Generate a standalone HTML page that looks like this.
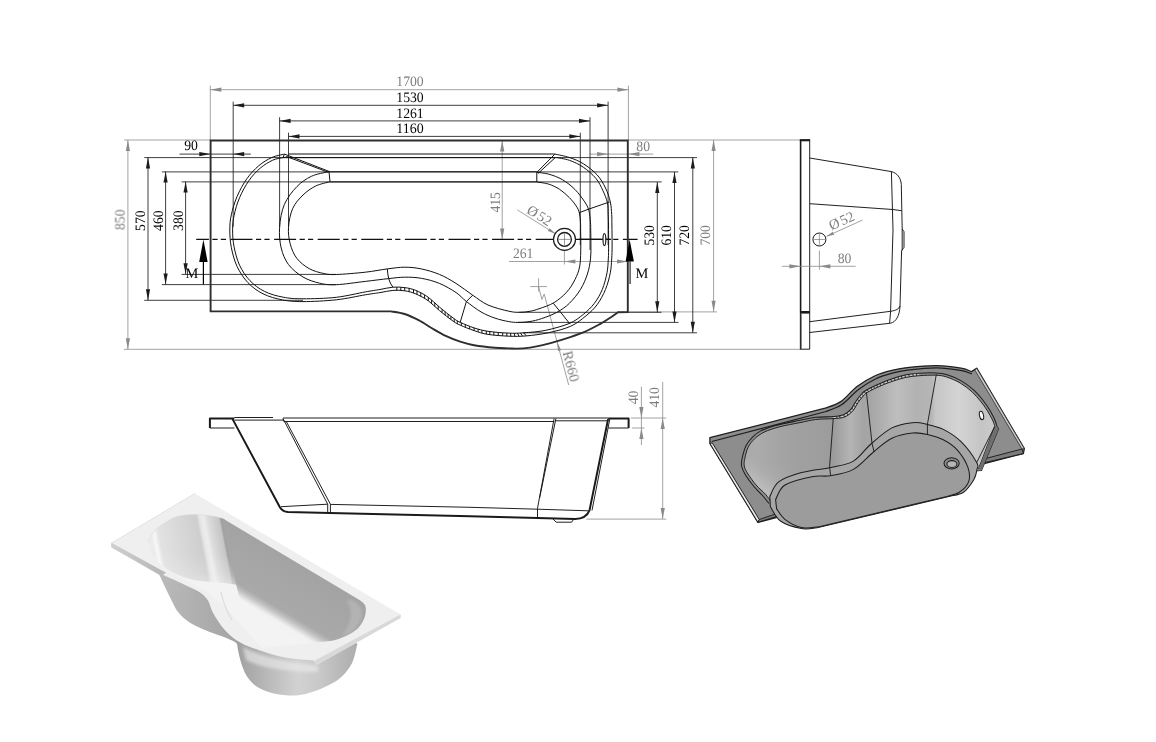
<!DOCTYPE html>
<html><head><meta charset="utf-8"><title>Bathtub drawing</title>
<style>html,body{margin:0;padding:0;background:#fff;}body{width:1156px;height:742px;overflow:hidden;font-family:"Liberation Serif",serif;}svg{display:block;}</style>
</head><body>
<svg width="1156" height="742" viewBox="0 0 1156 742">
<rect width="1156" height="742" fill="#fff"/>
<g stroke="#8a8a8a" stroke-width="0.8" fill="none">
<path d="M124,140H210.5M628,140H800.5M124,349.3H800.5"/>
<path d="M127.9,140V349.3"/>
<path d="M210.3,85.6V140M628.4,85.6V140M210.3,89.7H628.4"/>
<path d="M713.6,140V311.8M628,311.9H717"/>
<path d="M502.2,140.6V239.4"/>
<path d="M509,261.5H628M564.4,250V264.5"/>
<path d="M590,154.1H653.4"/>
<path d="M517.3,209.9L555.5,233.8"/>
<path d="M530.3,286.6H547M538.6,278.3V291.5M538.6,286.6L541.9,299.4L544.2,294L568.7,385" />
</g>
<g fill="#8a8a8a">
<polygon points="127.9,140 130,151 125.8,151"/>
<polygon points="127.9,349.3 125.8,338.3 130,338.3"/>
<polygon points="210.3,89.7 221.3,87.6 221.3,91.8"/>
<polygon points="628.4,89.7 617.4,91.8 617.4,87.6"/>
<polygon points="713.6,140 715.7,151 711.5,151"/>
<polygon points="713.6,311.8 711.5,300.8 715.7,300.8"/>
<polygon points="502.2,140.6 504.3,151.6 500.1,151.6"/>
<polygon points="502.2,239.4 500.1,228.4 504.3,228.4"/>
<polygon points="564.4,261.5 575.4,259.4 575.4,263.6"/>
<polygon points="628,261.5 617,263.6 617,259.4"/>
<polygon points="608.1,154.1 597.1,156.2 597.1,152"/>
<polygon points="628.4,154.1 639.4,152 639.4,156.2"/>
<polygon points="555.5,233.8 547.9,230.9 549.6,228.2"/>
<polygon points="557.2,342 561.1,350.3 558,351.1"/>
</g>
<g stroke="#1c1c1c" stroke-width="0.85" fill="none">
<path d="M233.2,101.6V227M608.1,101.6V245M233.2,105.3H608.1"/>
<path d="M279.6,117.2V227M590,117.2V250M279.6,120.9H590"/>
<path d="M288.5,132.7V227M580.3,132.7V245M288.5,136.4H580.3"/>
<path d="M179.5,154.1H250.8"/>
<path d="M148,157.6V300.3M165.6,171.5V284.5M185.6,181.5V274.3"/>
<path d="M144.3,157.6H697M161.9,171.9H678.3M181.6,181.9H661.7"/>
<path d="M144.3,300.3H303M161.9,284.6H336M181.6,274.4H336"/>
<path d="M657.3,182V312.3M674.5,172V322.4M692.8,157.6V332.8"/>
<path d="M519,312.3H661.5M518,322.4H678.5M523,332.8H697"/>
</g>
<g fill="#1c1c1c">
<polygon points="233.2,105.3 244.2,103.2 244.2,107.4"/>
<polygon points="608.1,105.3 597.1,107.4 597.1,103.2"/>
<polygon points="279.6,120.9 290.6,118.8 290.6,123"/>
<polygon points="590,120.9 579,123 579,118.8"/>
<polygon points="288.5,136.4 299.5,134.3 299.5,138.5"/>
<polygon points="580.3,136.4 569.3,138.5 569.3,134.3"/>
<polygon points="210.3,154.1 199.3,156.2 199.3,152"/>
<polygon points="233.2,154.1 244.2,152 244.2,156.2"/>
<polygon points="148,157.6 150.1,168.6 145.9,168.6"/>
<polygon points="148,300.3 145.9,289.3 150.1,289.3"/>
<polygon points="165.6,171.5 167.7,182.5 163.5,182.5"/>
<polygon points="165.6,284.5 163.5,273.5 167.7,273.5"/>
<polygon points="185.6,181.5 187.7,192.5 183.5,192.5"/>
<polygon points="185.6,274.3 183.5,263.3 187.7,263.3"/>
<polygon points="657.3,182 659.4,193 655.2,193"/>
<polygon points="657.3,312.3 655.2,301.3 659.4,301.3"/>
<polygon points="674.5,172 676.6,183 672.4,183"/>
<polygon points="674.5,322.4 672.4,311.4 676.6,311.4"/>
<polygon points="692.8,157.6 694.9,168.6 690.7,168.6"/>
<polygon points="692.8,332.8 690.7,321.8 694.9,321.8"/>
</g>
<path d="M196.2,239.4H637.6" stroke="#111" stroke-width="1.1" fill="none" stroke-dasharray="22 3.5 5.2 3.2 5.2 4.5" stroke-dashoffset="9.3"/>
<path d="M575,239.4H611" stroke="#111" stroke-width="1.1" fill="none"/>
<path d="M210.6,311.4H391C393.3,311.8 400.1,312.5 404.7,314C409.3,315.5 414,317.8 418.6,320.2C423.2,322.6 427.8,325.8 432.4,328.5C437,331.2 441.7,334 446.3,336.2C450.9,338.4 455.6,340.2 460.2,341.7C464.8,343.2 468.3,344.2 474.1,345.2C479.9,346.2 489.1,347.2 494.9,347.7C500.7,348.2 505.1,348.2 508.8,348.4C512.5,348.5 513.5,348.7 517,348.6C520.5,348.5 525.9,348.1 530,347.6C534.1,347.1 536.2,346.7 541.6,345.4C547,344.1 555.5,341.8 562.4,339.6C569.3,337.4 577,335 583.3,332.4C589.5,329.8 595.3,326.6 599.9,324.1C604.5,321.6 608,319.2 611,317.2C614,315.2 616.8,313.1 618,312.3L627.8,312V140.5H210.6Z" stroke="#2e2e2e" stroke-width="1.9" fill="none" stroke-linejoin="miter"/>
<g stroke="#111" stroke-width="1" fill="none">
<path d="M284.4,154.1C282.3,154.7 275.9,155.6 271.6,157.6C267.3,159.6 262.8,162.3 258.7,165.8C254.6,169.3 250.4,173.7 246.8,178.8C243.2,183.9 239.7,190.4 237.1,196.4C234.5,202.4 232.5,209.3 231.3,214.9C230.1,220.5 229.8,224.6 229.8,230C229.8,235.4 230.1,241.2 231.3,247.3C232.5,253.4 234.3,260.6 237.1,266.5C239.9,272.4 243.6,278.1 247.9,282.6C252.2,287.2 257.2,290.9 263,293.8C268.8,296.7 275.7,298.6 282.4,299.9C289.1,301.2 294,301.6 303,301.6C312,301.6 325.9,300.9 336.3,299.8C346.7,298.7 358,296 365.3,294.8C372.6,293.6 375.4,293.3 380,292.6C384.6,291.9 388.8,290.7 392.9,290.4C397,290.1 400.9,290.2 404.7,290.8C408.5,291.4 411.9,292.2 415.8,293.9C419.7,295.6 424.4,298 428.3,300.8C432.2,303.6 435.2,307.1 439.4,310.5C443.6,313.9 449.8,318.9 453.3,321.3C456.8,323.7 456.7,323.6 460.2,325.1C463.7,326.7 469.5,329.1 474.1,330.6C478.7,332.2 482.2,333.5 488,334.4C493.8,335.3 502.4,335.9 508.8,336.2C515.2,336.4 519.8,336.5 526.4,335.9C533,335.3 541.2,334.3 548.6,332.7C556,331.1 564.6,329 570.8,326.2C577,323.4 581.6,319.4 586,315.8C590.4,312.2 593.9,309.1 597.1,304.7C600.4,300.3 603.3,294.7 605.5,289.4C607.7,284.1 609.3,277.9 610.3,272.8C611.3,267.7 611.4,263.5 611.7,258.9C612,254.3 612.1,250.7 612.1,245C612.1,239.3 612,230.1 611.9,225C611.8,219.9 612,218.2 611.7,214.4C611.4,210.6 611.3,206.3 610.3,201.9C609.3,197.5 607.7,192.5 605.5,188C603.3,183.5 600.8,178.9 597.1,174.8C593.4,170.8 587.9,166.6 583.3,163.7C578.7,160.8 574.1,159.1 569.4,157.5C564.6,155.9 557.2,154.6 554.8,154H288.5"/>
<path d="M283.2,157.6C281.5,158 276.5,158.4 272.7,160.2C268.9,161.9 264.3,164.7 260.3,168.1C256.3,171.5 252.3,175.7 248.9,180.7C245.4,185.6 242.1,191.8 239.6,197.6C237.1,203.4 235.2,210 234.1,215.4C232.9,220.8 232.6,224.7 232.6,229.9C232.6,235.1 232.9,240.7 234,246.6C235.2,252.4 236.9,259.4 239.5,265.1C242.2,270.8 245.7,276.3 249.9,280.6C254.1,285 258.9,288.7 264.5,291.4C270,294.2 276.8,296 283.2,297.2C289.6,298.4 294.1,298.8 303,298.8C311.9,298.8 325.9,298.5 336.3,297.3C346.7,296.1 358,293.2 365.3,291.9C372.6,290.6 375.4,290.3 380,289.5C384.6,288.7 388.8,287.5 392.9,287.2C397,286.9 400.9,287.1 404.7,287.6C408.5,288.1 411.9,288.8 415.8,290.4C419.7,292 424.4,294.5 428.3,297.3C432.2,300.1 435.2,303.5 439.4,307C443.6,310.5 449.8,315.6 453.3,318.1C456.8,320.7 456.7,320.7 460.2,322.3C463.7,323.9 469.5,326.4 474.1,327.9C478.7,329.4 482.2,330.4 488,331.3C493.8,332.2 502.9,332.9 508.8,333.1C514.7,333.4 517.4,333.3 523.6,332.8C529.8,332.3 538.2,331.9 545.8,330.3C553.4,328.7 563.1,326 569.4,323.4C575.6,320.8 579.1,317.8 583.3,314.4C587.5,311 591.2,307.5 594.4,303.3C597.6,299.1 600.2,294.5 602.3,289.4C604.4,284.3 606,277.9 607,272.8C608,267.7 608,263.5 608.3,258.9C608.6,254.3 608.6,250.7 608.6,245C608.6,239.3 608.6,230.1 608.5,225C608.4,219.9 608.4,218.1 608.2,214.4C608,210.7 608.3,206.5 607.4,202.6C606.5,198.7 604.9,194.9 603,190.8C601.1,186.8 599.1,182.2 595.8,178.3C592.5,174.4 587.7,170.2 583.3,167.2C578.9,164.2 574,161.9 569.4,160.3C564.8,158.7 557.8,157.9 555.5,157.4"/>
<path d="M328,171.8C325.2,172.6 316.6,173.8 311.4,176.3C306.2,178.8 301.3,182 296.8,186.7C292.3,191.4 287.3,197.7 284.4,204.4C281.5,211.2 280.1,219.9 279.6,227.2C279.1,234.5 279.7,241.8 281.2,248C282.7,254.2 284.9,259.8 288.5,264.6C292.1,269.4 297.8,273.9 303,277C308.2,280.1 314.1,281.9 319.7,283.2C325.2,284.5 328.7,285 336.3,284.7C343.9,284.4 356.6,282.4 365.3,281.4C374,280.4 382.1,279.3 388.7,278.6C395.3,277.9 399.3,277.2 404.7,277.2C410.1,277.1 415.5,277.3 421.3,278.3C427.1,279.3 433.6,281 439.4,283.4C445.2,285.8 451.5,289.5 456,292.5C460.5,295.5 462.2,298.3 466.4,301.5C470.6,304.7 476.2,309.1 481,311.9C485.8,314.7 490.3,316.5 494.9,318.1C499.5,319.7 504.9,320.9 508.8,321.6C512.6,322.3 514.5,322.4 518,322.4C521.5,322.4 526.1,322.1 530,321.5C533.9,320.9 537.1,320.1 541.6,318.6C546.1,317.1 552.3,314.9 556.9,312.3C561.5,309.8 565.5,307.1 569.4,303.3C573.3,299.5 577.5,294.3 580.5,289.4C583.5,284.5 585.7,279.2 587.4,274.1C589.1,269 589.9,263.8 590.5,258.9C591.1,254 590.9,249.8 590.9,245C590.9,240.2 590.8,233.7 590.7,230C590.6,226.3 590.8,226 590.5,222.7C590.2,219.4 589.8,213.7 588.8,210.2C587.8,206.7 587,205.4 584.7,201.9C582.4,198.4 578.6,193.1 574.9,189.4C571.2,185.7 566.8,182.2 562.4,179.7C558,177.1 552.9,175.3 548.6,174.1C544.3,172.9 538.8,172.6 536.8,172.3"/>
<path d="M329.6,181.8C327.2,182.5 319.9,183.9 315.5,186.1C311.1,188.3 306.8,191.3 303,195C299.2,198.7 295.1,203.1 292.7,208.5C290.3,213.9 288.9,221.3 288.5,227.2C288.1,233.1 288.8,238.6 290.2,243.8C291.6,249 293.6,254.2 296.8,258.3C300,262.4 304.8,266.2 309.3,268.7C313.8,271.2 319.3,272.5 323.8,273.5C328.3,274.5 329.4,274.7 336.3,274.5C343.2,274.3 356.8,273.1 365.3,272.2C373.8,271.3 380.7,269.7 387.3,268.9C393.9,268.1 399,267.2 404.7,267.2C410.4,267.2 415.5,267.7 421.3,268.9C427.1,270.1 433.6,272 439.4,274.4C445.2,276.8 450.4,279.9 456,283.4C461.6,286.9 467.4,291.6 472.7,295.2C478,298.8 482,302.3 488,305C494,307.7 503.6,310 508.8,311.2C514,312.4 515.9,312.3 519.4,312.3C522.9,312.3 526.8,311.9 530,311.3C533.2,310.7 534.9,310.2 538.9,308.8C542.9,307.4 549.5,305.4 554.1,302.6C558.7,299.8 563.1,296 566.6,292.2C570.1,288.4 572.7,284.1 574.9,279.7C577.1,275.3 578.8,271.6 579.8,265.8C580.8,260 580.7,251 580.8,245C580.9,239 580.6,233.7 580.6,230C580.6,226.3 580.7,225.5 580.5,222.7C580.3,219.9 580.1,215.8 579.4,213C578.7,210.2 578,208.7 576.3,206.1C574.6,203.5 572.2,200.5 569.4,197.7C566.6,194.9 563.2,191.7 559.7,189.4C556.2,187.1 552.4,185.3 548.6,184.1C544.8,182.9 538.8,182.3 536.8,182"/>
<path d="M328,171.8H536.8M329.6,181.9H536.8M283.2,157.6H555.5"/>
<path d="M396.8,290.4L396.8,287.2M400.8,290.5L400.8,287.3M404.7,290.8L404.7,287.6M409.1,291.7L409.1,288.4M413.5,293L413.5,289.5M417,294.4L417,290.9M420.8,296.3L420.8,292.7M424.6,298.4L424.6,294.9M428.3,300.8L428.3,297.3M431.6,303.5L431.6,300M434.8,306.4L434.8,302.9M438.2,309.5L438.2,306M442.1,312.7L442.1,309.2M445.1,315.1L445.1,311.7M448.1,317.4L448.1,314.1M450.9,319.6L450.9,316.3M454.2,322L454.2,318.8M457.3,323.8L457.3,320.9M461.3,325.6L461.3,322.8M465.3,327.3L465.3,324.5M469.7,329L469.7,326.3M474.1,330.6L474.1,327.9M478.1,331.9L478.1,329.1M481.9,333.1L481.9,330.2M486.3,334.1L486.3,331M489.8,334.7L489.8,331.6M493.8,335.2L493.9,332M498.2,335.6L498.3,332.4M502.6,335.9L502.8,332.8M506.8,336.1L506.9,333M510.8,336.3L510.6,333.2M514.9,336.3L514.1,333.2M518.9,336.2L517.5,333.1M522.5,336L520.4,332.9M526.4,335.9L523.6,332.8"/>
<path d="M284.4,154.1L329,171.4L330,181.8M286.5,156.5L328.5,172.3M284.4,154.1L283,157.6L287.5,157M554.8,154.2L536.8,172.4V182M555,157.8L538,173.5"/>
<path d="M387.3,268.9Q387.6,274 388.7,278.6T392.9,287.2M472.7,295.2L466.4,301.5L460.2,322.3M553.4,303.3L570.1,324.1M579.4,212.6L588.8,209.1L609.6,201.9"/>
</g>
<g stroke="#1c1c1c" fill="#fff">
<circle cx="564.5" cy="239.4" r="11" stroke-width="1.2"/><circle cx="564.5" cy="239.4" r="6.9" stroke-width="1.3"/>
<path d="M558.5,239.4H570.5M564.5,233.4V245.4" stroke-width="0.6" stroke="#555"/>
<ellipse cx="604.4" cy="239.6" rx="1.4" ry="6" stroke-width="1.2" fill="#fff"/>
</g>
<g fill="#000" stroke="none">
<polygon points="203.4,239.4 207.6,262 199.2,262"/><rect x="202.8" y="261" width="1.2" height="23.5"/>
<polygon points="629.6,239.4 633.9,261.6 625.6,261.6"/>
</g>
<path d="M630.1,261V284" stroke="#3a3a3a" stroke-width="1.3"/>
<g font-family="'Liberation Serif',serif" font-size="14.4px" fill="#000" text-anchor="middle" text-rendering="geometricPrecision" opacity="0.99">
<text x="410" y="102" textLength="27.4" lengthAdjust="spacingAndGlyphs">1530</text><text x="410" y="117.6" textLength="27.4" lengthAdjust="spacingAndGlyphs">1261</text><text x="410" y="133" textLength="27.4" lengthAdjust="spacingAndGlyphs">1160</text>
<text x="191" y="150" textLength="13.7" lengthAdjust="spacingAndGlyphs">90</text>
<text transform="translate(144.9,220.7) rotate(-90)" textLength="20.5" lengthAdjust="spacingAndGlyphs">570</text>
<text transform="translate(162.9,220.7) rotate(-90)" textLength="20.5" lengthAdjust="spacingAndGlyphs">460</text>
<text transform="translate(182.7,220.7) rotate(-90)" textLength="20.5" lengthAdjust="spacingAndGlyphs">380</text>
<text transform="translate(654,235.3) rotate(-90)" textLength="20.5" lengthAdjust="spacingAndGlyphs">530</text>
<text transform="translate(671,235.3) rotate(-90)" textLength="20.5" lengthAdjust="spacingAndGlyphs">610</text>
<text transform="translate(689.3,235.3) rotate(-90)" textLength="20.5" lengthAdjust="spacingAndGlyphs">720</text>
<text x="192" y="277.9" font-size="14.4px">M</text><text x="642" y="277.7" font-size="14.4px">M</text>
</g>
<g font-family="'Liberation Serif',serif" font-size="14.4px" fill="#7c7c7c" text-anchor="middle" text-rendering="geometricPrecision" opacity="0.99">
<text x="410" y="86" textLength="27.4" lengthAdjust="spacingAndGlyphs">1700</text><text x="643.2" y="150.6" textLength="13.7" lengthAdjust="spacingAndGlyphs">80</text><text x="523.2" y="257.8" textLength="20.5" lengthAdjust="spacingAndGlyphs">261</text>
<text transform="translate(124.6,219.7) rotate(-90)" textLength="20.5" lengthAdjust="spacingAndGlyphs">850</text>
<text transform="translate(710,235.3) rotate(-90)" textLength="20.5" lengthAdjust="spacingAndGlyphs">700</text>
<text transform="translate(499.7,202.3) rotate(-90)" textLength="20.5" lengthAdjust="spacingAndGlyphs">415</text>
<text transform="translate(525.8,212.5) rotate(32)" text-anchor="start">Ø<tspan dx="1.6">52</tspan></text>
<text transform="translate(562.5,352.5) rotate(75.2)" text-anchor="start">R660</text>
</g>
<g stroke="#141414" fill="none" stroke-width="0.95">
<path d="M809.7,140.5V349.2H800.6"/>
<path d="M800.6,313V349.2"/>
<path d="M809.7,158L891.4,171.6C897,173 900.8,177.5 901.3,184.5L902.2,229L904,231.7V247.4L901.6,250.5L900,306C899.5,316 896,322 890.6,323.2L809.7,332.5"/>
<path d="M809.7,203.7L892.9,209.5L901.6,210.7"/>
<path d="M891.4,171.6L893,230L890.6,311.3L889.6,323.2"/>
<path d="M809.7,321.7L890.6,311.3C896,310.5 899,309 900,306"/>
<path d="M902.2,229V250.5"/>
</g>
<path d="M800.6,349.2V140.5" stroke="#1a1a1a" stroke-width="1.6" fill="none"/>
<path d="M799.8,140.2H810.1" stroke="#1a1a1a" stroke-width="2.2" fill="none"/>
<path d="M800.4,312.3H809.7" stroke="#1a1a1a" stroke-width="2.6" fill="none"/>
<path d="M800.6,313V349.2" stroke="#fff" stroke-width="1.7" fill="none"/><path d="M800.7,313V349.5" stroke="#222" stroke-width="1.3" fill="none"/>
<circle cx="819.4" cy="239.5" r="6.5" stroke="#1c1c1c" stroke-width="1" fill="none"/>
<path d="M813.5,239.5H825.3M819.4,233.5V245.5" stroke="#666" stroke-width="0.6"/>
<g stroke="#8a8a8a" stroke-width="0.8" fill="none">
<path d="M781.9,266.3H855.7M819.4,250.5V269.7M826.5,236.4L862.4,220.1"/>
</g>
<g fill="#8a8a8a">
<polygon points="800.4,266.3 789.4,268.4 789.4,264.2"/>
<polygon points="819.4,266.3 830.4,264.2 830.4,268.4"/>
<polygon points="826.2,236.6 832.8,231.8 834.1,234.7"/>
</g>
<g font-family="'Liberation Serif',serif" font-size="14.4px" fill="#7c7c7c" text-rendering="geometricPrecision" opacity="0.99">
<text x="844.5" y="262.5" text-anchor="middle" textLength="13.7" lengthAdjust="spacingAndGlyphs">80</text>
<text transform="translate(831.5,230.6) rotate(-24.5)">Ø<tspan dx="1.6">52</tspan></text>
</g>
<g stroke="#141414" fill="none" stroke-width="0.95">
<path d="M234.3,417.5H273M234.3,420.1H283M283,418H608M286,421.5H554.3M555.7,420.8H607.6"/>
<path d="M209.9,428H234.5M608.3,428H628.6"/>
<path d="M283,418.6L327.7,504.2M286.2,421.3L330.4,504.2M283,418.6L284,421.8L286.2,421.3"/>
<path d="M281,506.7L327.7,504.2M330.4,504.4L470,507.3L537.5,509.2L588.3,510.8"/>
<path d="M327.7,504.2V512.6M330.4,504.2V512.8M537.5,508.3V517.7"/>
<path d="M554.1,418.6L537.5,508.3M555.9,418.6L539.6,498"/>
<path d="M609.8,419.1L592,510.4"/>
<path d="M553,519L556.2,522.2H571.7L573.8,519"/>
</g>
<g stroke="#1a1a1a" fill="none" stroke-width="2" stroke-linejoin="round">
<path d="M234.3,418.4H209.9V428"/>
<path d="M232.2,418.4L279.9,507.3Q282.5,511.8 288,512.1L329.8,512.9L470,516.2L537.5,517.9L575,518.9Q586,519 589.5,510.4L608.1,419.1"/>
<path d="M608.1,418.4H628.6V428"/>
</g>
<g stroke="#8a8a8a" stroke-width="0.8" fill="none">
<path d="M586.3,519.1H666.2M630.9,418H666.2M631.9,428H644.4M641.4,386.6V445M662.7,381.8V519.1"/>
</g>
<g fill="#8a8a8a">
<polygon points="641.4,418 639.3,407 643.5,407"/>
<polygon points="641.4,428 643.5,439 639.3,439"/>
<polygon points="662.7,418 664.8,429 660.6,429"/>
<polygon points="662.7,519.1 660.6,508.1 664.8,508.1"/>
</g>
<g font-family="'Liberation Serif',serif" font-size="14.4px" fill="#7c7c7c" text-anchor="middle" text-rendering="geometricPrecision" opacity="0.99">
<text transform="translate(637.6,397.4) rotate(-90)" textLength="13.7" lengthAdjust="spacingAndGlyphs">40</text><text transform="translate(659.4,397.3) rotate(-90)" textLength="20.5" lengthAdjust="spacingAndGlyphs">410</text>
</g>
<defs>
<linearGradient id="gw" gradientUnits="userSpaceOnUse" x1="742" y1="0" x2="1000" y2="0">
<stop offset="0" stop-color="#a6a6a6"/><stop offset="0.05" stop-color="#adadad"/><stop offset="0.12" stop-color="#a6a6a6"/>
<stop offset="0.22" stop-color="#a0a0a0"/><stop offset="0.345" stop-color="#9c9c9c"/><stop offset="0.35" stop-color="#9a9a9a"/>
<stop offset="0.42" stop-color="#b4b4b4"/><stop offset="0.47" stop-color="#a4a4a4"/><stop offset="0.5" stop-color="#a6a6a6"/>
<stop offset="0.6" stop-color="#bebebe"/><stop offset="0.68" stop-color="#b2b2b2"/><stop offset="0.735" stop-color="#b6b6b6"/>
<stop offset="0.75" stop-color="#c6c6c6"/><stop offset="0.84" stop-color="#d4d4d4"/><stop offset="0.93" stop-color="#c4c4c4"/><stop offset="1" stop-color="#cfcfcf"/>
</linearGradient>
<linearGradient id="gl" gradientUnits="userSpaceOnUse" x1="748" y1="498" x2="796" y2="436">
<stop offset="0" stop-color="#c8c8c8"/><stop offset="0.18" stop-color="#bfbfbf"/><stop offset="0.4" stop-color="#adadad" stop-opacity="0.7"/><stop offset="0.65" stop-color="#a4a4a4" stop-opacity="0"/><stop offset="1" stop-color="#a0a0a0" stop-opacity="0"/>
</linearGradient>
</defs>
<path d="M709.9,437.7L825.1,408.2C827.7,407.1 835.5,405.2 840.8,401.6C846.1,398 851.4,390.8 857,386.5C862.6,382.2 868.8,378.7 874.6,376C880.4,373.3 886.1,371.8 891.9,370.4C897.7,368.9 901.7,368.1 909.2,367.3C916.7,366.5 928.2,365.5 936.9,365.6C945.5,365.8 955.3,367.2 961.1,368.2C966.9,369.2 969.8,371 971.5,371.6L976.7,368.2L1024.3,448.6L1023.4,453.5L757.9,522.3L709.9,443.4Z" fill="#8d8d8d" stroke="#1e1e1e" stroke-width="1.3" stroke-linejoin="round"/>
<path d="M711.8,441.5L825.1,411.8C827.8,410.6 835.9,408.5 841.5,404.8C847.1,401.1 852.8,393.8 858.5,389.5C864.2,385.2 869.9,381.7 875.5,379C881.1,376.3 886.6,374.7 892.3,373.2C897.9,371.7 902,370.7 909.4,369.8C916.8,368.9 928.4,367.7 936.9,367.8C945.4,367.9 954.8,369.4 960.6,370.4C966.5,371.4 970.1,373.4 972,374" fill="none" stroke="#1e1e1e" stroke-width="1.2"/>
<path d="M709.9,443.4L712.3,442.9L759.3,519.5L757.9,522.3Z" fill="#e4e4e4" stroke="#1e1e1e" stroke-width="0.95" stroke-linejoin="round"/>
<path d="M976.7,368.2L1024.3,448.6L1022,449L975,370.3Z" fill="#c9c9c9" stroke="#1e1e1e" stroke-width="0.7" stroke-linejoin="round"/>
<path d="M1022,449L1023.4,453.5L981.9,463.3L983,459.2Z" fill="#7c7c7c" stroke="#1e1e1e" stroke-width="0.95" stroke-linejoin="round"/>
<path d="M757.9,522.3L759.3,519.5L779,512.8L778.7,515.8Z" fill="#7c7c7c" stroke="#1e1e1e" stroke-width="0.95" stroke-linejoin="round"/>
<path d="M771.1,501.9C770.2,500.6 768,497.1 765.5,494.3C763,491.5 758.9,488.3 756,484.9C753.1,481.5 750,477.1 748,474C746,470.9 744.8,468.6 744.3,466C743.8,463.4 744.2,461.6 744.8,458.5C745.4,455.4 746.5,450.5 748.1,447.2C749.8,443.9 752,441.2 754.7,438.7C757.4,436.2 760.1,434.1 764.2,432.1C768.3,430.1 773.2,428.5 779.2,426.9C785.2,425.3 793.9,423.8 800,422.6C806.1,421.4 810.1,420.2 815.7,419.5C821.3,418.8 828.7,419 833.5,418.6C838.3,418.2 841.4,418.3 844.6,417C847.8,415.7 850.7,413.2 852.9,410.8C855.1,408.4 856.1,405.3 857.9,402.8C859.6,400.3 861.8,397.6 863.4,395.8C865,394.1 865.2,393.7 867.6,392.3C870,390.9 873.6,389 877.6,387.2C881.6,385.4 887,383.2 891.6,381.6C896.2,380 900.9,378.5 905.5,377.5C910.1,376.5 914.2,376.1 919.3,375.7C924.3,375.3 931.2,375 935.8,375.2C940.3,375.4 942.5,375.7 946.6,377C950.7,378.3 956,380.5 960.2,383C964.4,385.5 968.5,388.6 972,391.8C975.5,395 978.4,398.5 981.2,402C984,405.5 986.7,409.7 988.7,413C990.7,416.3 992.3,419.6 993.3,421.8C994.3,424.1 994.5,425.7 994.7,426.5L978.4,469.4L973.2,471.1L977,469.4C974.1,459 966.6,447.2 961.1,441.7C955.6,436.2 949.4,432.5 943.8,429.6C938.2,426.7 932.6,425.5 927.4,424.4C922.2,423.2 918.6,422.1 912.7,422.7C906.8,423.3 898.9,424.3 891.9,427.9C884.9,431.4 877.4,438.5 871,444C864.6,449.5 860.1,457.2 853.4,461.1C846.7,465 839.2,465.5 830.6,467.4C822,469.3 810.1,470.2 801.5,472.6C792.9,475 784,477.9 778.7,481.9C773.4,485.9 771.3,494 769.8,496.4L771.1,501.9Z" fill="url(#gw)"/>
<path d="M771.1,501.9C770.2,500.6 768,497.1 765.5,494.3C763,491.5 758.9,488.3 756,484.9C753.1,481.5 750,477.1 748,474C746,470.9 744.8,468.6 744.3,466C743.8,463.4 744.2,461.6 744.8,458.5C745.4,455.4 746.5,450.5 748.1,447.2C749.8,443.9 752,441.2 754.7,438.7C757.4,436.2 760.1,434.1 764.2,432.1C768.3,430.1 773.2,428.5 779.2,426.9C785.2,425.3 796.5,423.3 800,422.6L832,418L830.6,467.4L801.5,472.6L778.7,481.9L769.8,496.4Z" fill="url(#gl)"/>
<path d="M833.4,417.6C835.1,417.3 841,417.1 844.1,415.9C847.2,414.6 849.9,412.2 852,410C854.1,407.7 855.1,404.7 856.8,402.1C858.6,399.6 860.8,396.7 862.5,394.9C864.1,393.1 864.5,392.7 866.9,391.2C869.3,389.8 873.1,387.9 877.1,386.1C881.1,384.3 886.5,382.1 891.2,380.5C895.9,378.8 900.5,377.3 905.2,376.3C909.9,375.3 916.8,374.8 919.1,374.5" fill="none" stroke="#c4c4c4" stroke-width="2.4"/>
<path d="M769,503.5C767.9,502.2 765.1,498.4 762.5,495.5C759.9,492.6 756.3,489.4 753.5,486C750.7,482.6 747.5,478.3 745.5,475C743.5,471.7 742.1,468.9 741.6,466C741.1,463.1 741.5,460.9 742.3,457.5C743.1,454.1 744.5,448.8 746.2,445.3C748,441.9 750.4,439.2 752.8,436.8C755.2,434.4 756.6,433 760.4,431.1C764.2,429.2 768.9,427.3 775.5,425.5C782.1,423.7 793.3,421.7 800,420.3C806.7,418.9 810.2,417.9 815.7,417.3C821.2,416.7 828.6,417 833.2,416.6C837.9,416.2 840.6,415.9 843.6,414.7C846.6,413.4 849.1,411.3 851.1,409.1C853.1,406.9 854.1,404 855.8,401.5C857.5,399 859.8,395.9 861.5,394C863.2,392.1 863.7,391.7 866.2,390.2C868.7,388.7 872.5,386.8 876.6,385C880.7,383.2 886.1,380.9 890.8,379.3C895.5,377.7 900.2,376.1 904.9,375.1C909.6,374.1 913.9,373.7 919,373.3C924.1,372.9 931.1,372.6 935.8,372.9C940.5,373.1 943,373.5 947.2,374.8C951.5,376.1 956.9,378.4 961.3,380.9C965.7,383.4 970,386.7 973.6,389.9C977.2,393.1 980.2,396.7 983,400.3C985.8,403.9 988.6,408.2 990.6,411.6C992.6,415.1 994.3,418.6 995.3,421C996.3,423.4 996.5,425.2 996.8,426" fill="none" stroke="#1e1e1e" stroke-width="1.05"/>
<path d="M771.1,501.9C770.2,500.6 768,497.1 765.5,494.3C763,491.5 758.9,488.3 756,484.9C753.1,481.5 750,477.1 748,474C746,470.9 744.8,468.6 744.3,466C743.8,463.4 744.2,461.6 744.8,458.5C745.4,455.4 746.5,450.5 748.1,447.2C749.8,443.9 752,441.2 754.7,438.7C757.4,436.2 760.1,434.1 764.2,432.1C768.3,430.1 773.2,428.5 779.2,426.9C785.2,425.3 793.9,423.8 800,422.6C806.1,421.4 810.1,420.2 815.7,419.5C821.3,418.8 828.7,419 833.5,418.6C838.3,418.2 841.4,418.3 844.6,417C847.8,415.7 850.7,413.2 852.9,410.8C855.1,408.4 856.1,405.3 857.9,402.8C859.6,400.3 861.8,397.6 863.4,395.8C865,394.1 865.2,393.7 867.6,392.3C870,390.9 873.6,389 877.6,387.2C881.6,385.4 887,383.2 891.6,381.6C896.2,380 900.9,378.5 905.5,377.5C910.1,376.5 914.2,376.1 919.3,375.7C924.3,375.3 931.2,375 935.8,375.2C940.3,375.4 942.5,375.7 946.6,377C950.7,378.3 956,380.5 960.2,383C964.4,385.5 968.5,388.6 972,391.8C975.5,395 978.4,398.5 981.2,402C984,405.5 986.7,409.7 988.7,413C990.7,416.3 992.3,419.6 993.3,421.8C994.3,424.1 994.5,425.7 994.7,426.5" fill="none" stroke="#1e1e1e" stroke-width="0.95"/>
<path d="M836.5,416.2L837,418.3M839.5,415.8L840.2,418M843.6,414.7L844.6,417M846.7,413L848.1,415.1M849.5,410.7L851.1,412.6M851.8,408.2L853.7,409.9M853.6,405.4L855.6,406.9M855.2,402.5L857.3,403.8M857.2,399.5L859.3,400.9M859.4,396.5L861.4,398.1M861.5,394L863.4,395.8M864.1,391.6L865.7,393.6M867.2,389.6L868.5,391.7M870.8,387.7L872,389.9M873.6,386.4L874.7,388.5M876.6,385L877.6,387.2M879.9,383.6L880.8,385.8M883.5,382.1L884.4,384.3M887.2,380.6L888,382.9M890.8,379.3L891.6,381.6M894.3,378.1L895.1,380.4M897.9,377L898.6,379.3M901.4,375.9L902,378.3M904.9,375.1L905.5,377.5M908.8,374.4L909.3,376.8M912.8,373.9L913.3,376.3M916.5,373.6L916.8,376" fill="none" stroke="#1e1e1e" stroke-width="0.9"/>
<path d="M994.7,426.5L978.4,469.4M996.8,426L998.5,429L981.5,470.5L973.2,471.1" fill="none" stroke="#1e1e1e" stroke-width="1.05"/>
<path d="M994.7,426.5L996.8,426L998.5,429L981.5,470.5L978.4,469.4Z" fill="#6f6f6f"/>
<path d="M769.8,496.4C771.3,494 773.4,485.9 778.7,481.9C784,477.9 792.9,475 801.5,472.6C810.1,470.2 822,469.3 830.6,467.4C839.2,465.5 846.7,465 853.4,461.1C860.1,457.2 864.6,449.5 871,444C877.4,438.5 884.9,431.4 891.9,427.9C898.9,424.3 906.8,423.3 912.7,422.7C918.6,422.1 922.2,423.2 927.4,424.4C932.6,425.5 938.2,426.7 943.8,429.6C949.4,432.5 955.6,436.2 961.1,441.7C966.6,447.2 974.1,457.9 976.7,462.5C979.4,467.1 977.5,466.5 977,469.4C976.5,472.3 976,476 973.8,479.8C971.5,483.6 967.3,489.6 963.5,492.3C959.7,495 953.1,495.4 951,496L818.1,527.6C815.3,527.8 807.7,529.7 801.5,528.6C795.3,527.5 786,524.9 780.8,521.3C775.6,517.7 772.1,509.2 770.4,506.8Z" fill="#a6a6a6" stroke="#1e1e1e" stroke-width="1.05" stroke-linejoin="round"/>
<path d="M775.6,499.6C777.1,497.2 778.9,488.8 784.9,485C790.9,481.2 804.3,478.2 811.9,476.7C819.5,475.1 823.7,476.9 830.6,475.7C837.5,474.5 846.2,473.4 853.4,469.4C860.6,465.4 867.6,456.7 874,451.5C880.4,446.3 885.4,441.3 891.9,438.2C898.4,435.1 906.8,433.6 912.7,433C918.6,432.4 922.2,433.2 927.4,434.4C932.6,435.6 938.8,437.4 943.8,440C948.8,442.6 953.6,445.7 957.6,450.3C961.6,454.9 966.2,462.3 968,467.6C969.8,472.9 970.1,477.8 968.6,481.9C967.1,486 962.9,489.9 959.3,492.3C955.7,494.7 948.9,495.7 946.8,496.4L820.2,526.5C817.1,526.7 807.4,528.8 801.5,527.6C795.6,526.4 789,522.4 784.9,519.3C780.8,516.2 778,510.6 776.6,508.9Z" fill="#9c9c9c" stroke="#1e1e1e" stroke-width="1.05" stroke-linejoin="round"/>
<path d="M833.3,418L829.6,466.5L830.6,475.7M866.4,392L872,443.4L874,451.5M936.3,374.5L927.4,424.4L927.4,434.4M994.7,426.5L976.7,462.5" fill="none" stroke="#1e1e1e" stroke-width="0.95"/>
<ellipse cx="951.6" cy="463.3" rx="7.6" ry="5.6" fill="#8a8a8a" stroke="#1e1e1e" stroke-width="1.05"/>
<ellipse cx="951.9" cy="464" rx="5" ry="3.4" fill="#b5b5b5" stroke="#1e1e1e" stroke-width="1.05"/>
<ellipse cx="981.5" cy="415.4" rx="2" ry="4.3" fill="#fff" stroke="#1e1e1e" stroke-width="1.05" transform="rotate(-12 981.5 415.4)"/>
<defs>
<filter id="b1" x="-10%" y="-10%" width="120%" height="120%"><feGaussianBlur stdDeviation="0.7"/></filter>
<filter id="b2" x="-10%" y="-10%" width="120%" height="120%"><feGaussianBlur stdDeviation="1.6"/></filter>
<filter id="b3" x="-20%" y="-20%" width="140%" height="140%"><feGaussianBlur stdDeviation="3"/></filter>
<linearGradient id="wb" gradientUnits="userSpaceOnUse" x1="236" y1="0" x2="360" y2="0">
<stop offset="0" stop-color="#9f9f9f"/><stop offset="0.12" stop-color="#ababab"/><stop offset="0.3" stop-color="#bebebe"/><stop offset="0.5" stop-color="#d2d2d2"/><stop offset="0.68" stop-color="#c8c8c8"/><stop offset="0.88" stop-color="#b5b5b5"/><stop offset="1" stop-color="#acacac"/>
</linearGradient>
<linearGradient id="wl" gradientUnits="userSpaceOnUse" x1="160" y1="0" x2="240" y2="0">
<stop offset="0" stop-color="#bababa"/><stop offset="0.25" stop-color="#b4b4b4"/><stop offset="0.6" stop-color="#acacac"/><stop offset="1" stop-color="#a3a3a3"/>
</linearGradient>
<linearGradient id="we" gradientUnits="userSpaceOnUse" x1="146" y1="548" x2="224.4" y2="532.8">
<stop offset="0" stop-color="#efefef"/><stop offset="0.09" stop-color="#ebebeb"/><stop offset="0.135" stop-color="#f7f7f7"/><stop offset="0.19" stop-color="#e2e2e2"/><stop offset="0.45" stop-color="#d8d8d8"/><stop offset="0.69" stop-color="#cecece"/><stop offset="0.73" stop-color="#e6e6e6"/><stop offset="0.775" stop-color="#ededed"/><stop offset="0.83" stop-color="#dcdcdc"/><stop offset="0.9" stop-color="#d0d0d0"/><stop offset="0.965" stop-color="#c6c6c6"/><stop offset="0.985" stop-color="#a6a6a6"/><stop offset="1" stop-color="#a0a0a0"/>
</linearGradient>
<linearGradient id="wf" gradientUnits="userSpaceOnUse" x1="300" y1="565" x2="269.3" y2="616.5">
<stop offset="0" stop-color="#a3a3a3"/><stop offset="0.8" stop-color="#a9a9a9"/><stop offset="0.88" stop-color="#c0c0c0"/><stop offset="0.95" stop-color="#dfdfdf"/><stop offset="1" stop-color="#f2f2f2"/>
</linearGradient>
<linearGradient id="ws" gradientUnits="userSpaceOnUse" x1="111" y1="0" x2="165" y2="0"><stop offset="0" stop-color="#cfcfcf"/><stop offset="1" stop-color="#b6b6b6"/></linearGradient>
<linearGradient id="wmg" gradientUnits="userSpaceOnUse" x1="0" y1="556" x2="0" y2="586">
<stop offset="0" stop-color="#fff"/><stop offset="0.6" stop-color="#ccc"/><stop offset="1" stop-color="#777"/>
</linearGradient>
<mask id="wm" maskUnits="userSpaceOnUse" x="130" y="500" width="130" height="110"><rect x="130" y="500" width="130" height="110" fill="url(#wmg)"/></mask>
<linearGradient id="wv" gradientUnits="userSpaceOnUse" x1="0" y1="545" x2="0" y2="588">
<stop offset="0" stop-color="#fff" stop-opacity="0"/><stop offset="0.6" stop-color="#fff" stop-opacity="0.1"/><stop offset="1" stop-color="#f3f3f3" stop-opacity="1"/>
</linearGradient>
<clipPath id="wopen"><path id="wopenp" d="M148.5,542.5C150,534 156,527.4 173.3,517.7C185,513.5 205,513.5 222.4,518.3L358.3,599.2C363,602 366.5,605 365.8,610C366,617 362,626 353.9,631.6C347,636 338,640 330.2,641L262,648L225,607L205,590L170,572C158,563 148,553 148.5,542.5Z"/></clipPath>
</defs>
<path d="M158,572C160.1,576.4 167.1,591.7 170.6,598.5C174.1,605.3 175.4,608.9 178.9,613C182.4,617.1 185.8,620.1 191.3,623.4C196.8,626.7 205.9,630.2 212.1,632.8C218.3,635.4 224.4,637 228.7,639C233,641 235.1,641.5 238,645C240.9,648.5 244.7,657.5 246,660L262,650L230,600L200,585Z" fill="url(#wl)" filter="url(#b1)"/>
<path d="M228,630C229.3,631.7 234.3,636.7 236,640C237.7,643.3 237.1,646.2 238,650C238.9,653.8 239.7,658.5 241.2,662.9C242.7,667.3 244.2,672.3 247,676.4C249.8,680.5 253.1,684.3 257.8,687.2C262.5,690.1 268.5,692.3 275,693.7C281.5,695.1 290.1,695.8 296.6,695.4C303.1,695 308.2,693.3 313.8,691.5C319.4,689.7 325.4,686.9 330,684.5C334.6,682.1 337.6,680.6 341.3,677C345,673.4 349.4,668.5 352.1,662.9C354.8,657.3 356.6,646.7 357.5,643.5L340,640L260,635Z" fill="url(#wb)" filter="url(#b1)"/>
<path d="M243,647C250,651 256,653 262,655C290,664 315,664 318,666L318,672C290,672 262,668 246,660Z" fill="#ececec" opacity="0.6" filter="url(#b2)"/>
<path d="M110.8,543.5L194.9,493.4L400.6,614.4L400.6,618L316.5,665L313.8,660.4C309.3,660 294.8,659 286.9,657.7C278.9,656.4 273.7,654.9 266.1,652.5C258.5,650.1 248.1,646.9 241.2,643.1C234.3,639.3 229.3,634.7 224.6,629.7C219.9,624.7 215.9,617.9 213.1,613C210.3,608.1 210.2,604.1 208,600.6C205.8,597.1 203.9,595.1 199.7,592.3C195.5,589.5 189.2,587 183,584C176.8,581 165.8,576.2 162.3,574.6L112,548.3Z" fill="#efefef"/>
<path d="M110.9,542.4L166,572.8L161.3,576L111.2,547.2Z" fill="url(#ws)"/>
<path d="M400.6,614.4L400.6,618L316.5,665L314.4,660.7Z" fill="#d9d9d9"/>
<path d="M110.8,543.5L194.9,493.4" stroke="#e2e2e2" stroke-width="1" fill="none"/>
<g clip-path="url(#wopen)">
<rect x="140" y="505" width="240" height="150" fill="#f3f3f3"/>
<g mask="url(#wm)"><path d="M146,545L150,525L175,512L225,514L232,556L238,585C225,582.5 212,582 200,581C188,579.5 176,575 167,569C158,563 150,555 146,545Z" fill="url(#we)" filter="url(#b1)"/></g>
<path d="M221,514L361,597L372,612L362,632L335,652L318,654L240,600C233,572 227,548 221,514Z" fill="url(#wf)" filter="url(#b1)"/>
<path d="M352,600C364,606 366,618 352,632L340,638C352,624 354,612 346,600Z" fill="#bdbdbd" opacity="0.6" filter="url(#b2)"/>
</g>
<path d="M148.5,542.5C150,534 156,527.4 173.3,517.7C185,513.5 205,513.5 222.4,518.3" fill="none" stroke="#dadada" stroke-width="0.8" opacity="0.7"/>
<path d="M221,592C223,602 227,612 232,620" stroke="#e0e0e0" stroke-width="1.4" fill="none" filter="url(#b1)"/>
</svg>
</body></html>
